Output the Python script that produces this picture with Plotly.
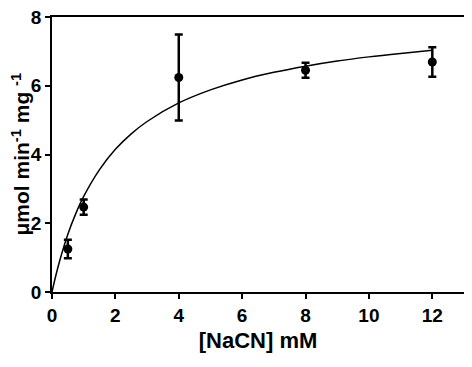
import plotly.graph_objects as go

# measured data
conc = [0.5, 1, 4, 8, 12]
rate = [1.25, 2.47, 6.24, 6.45, 6.69]
rate_err = [0.27, 0.22, 1.25, 0.22, 0.43]

# fitted curve
fit_x = [0, 0.1, 0.25, 0.5, 0.75, 1, 1.5, 2, 2.5, 3, 4, 5, 6, 7, 8, 9, 10, 11, 12]
fit_y = [0, 0.40, 0.93, 1.68, 2.28, 2.78, 3.56, 4.15, 4.60, 4.96, 5.50, 5.88,
         6.17, 6.39, 6.57, 6.72, 6.84, 6.94, 7.03]

x_ticks = [0, 2, 4, 6, 8, 10, 12]
y_ticks = [0, 2, 4, 6, 8]
x_title = "[NaCN] mM"
y_title = "μmol min<sup>-1</sup> mg <sup>-1</sup>"

fig = go.Figure()
fig.add_trace(go.Scatter(x=fit_x, y=fit_y, mode="lines",
                         line=dict(color="black", width=1.5, shape="spline"),
                         showlegend=False, hoverinfo="skip"))
fig.add_trace(go.Scatter(x=conc, y=rate, mode="markers",
                         marker=dict(color="black", size=9),
                         error_y=dict(type="data", array=rate_err, color="black",
                                      thickness=2.5, width=4),
                         showlegend=False))

font = dict(family="Liberation Sans, Arial, sans-serif", color="black")
# page body has an 8px margin, so the figure is sized/placed to compensate
fig.update_layout(
    width=464, height=359,
    margin=dict(l=44, r=8, t=9, b=75),
    plot_bgcolor="white", paper_bgcolor="white",
    font=font,
    xaxis=dict(range=[0, 13], tickvals=x_ticks, ticktext=[f"<b>{v}</b>" for v in x_ticks],
               showgrid=False, zeroline=False, showline=True, linecolor="black",
               linewidth=1.5, mirror=True, ticks="outside", ticklen=5, tickwidth=1.5,
               tickcolor="black", tickfont=dict(size=19), automargin=False,
               ticklabeloverflow="allow",
               title=dict(text=f"<b>{x_title}</b>", font=dict(size=22), standoff=8)),
    yaxis=dict(range=[0, 8], tickvals=y_ticks, ticktext=[f"<b>{v}</b>" for v in y_ticks],
               showgrid=False, zeroline=False, showline=True, linecolor="black",
               linewidth=1.5, mirror=True, ticks="outside", ticklen=5, tickwidth=1.5,
               tickcolor="black", tickfont=dict(size=19), automargin=False,
               ticklabeloverflow="allow"),
    annotations=[dict(text=f"<b>{y_title}</b>", textangle=-90, xref="paper", yref="paper",
                      x=0, y=0.5, xanchor="center", yanchor="middle", xshift=-32,
                      yshift=0, showarrow=False, font=dict(size=21))],
)

fig.write_html("out.html")
